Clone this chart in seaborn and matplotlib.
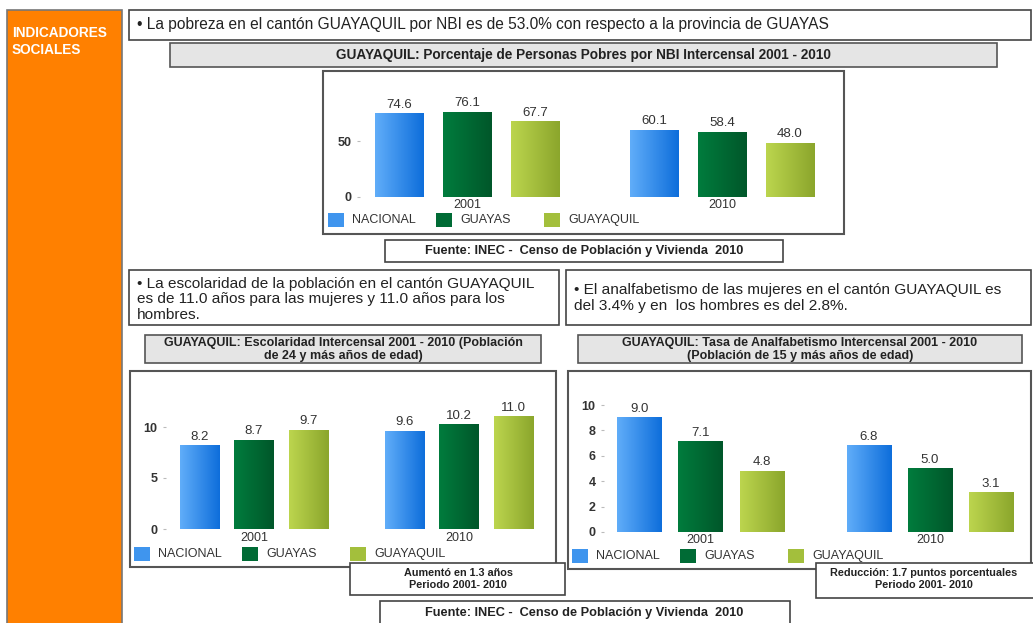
import numpy as np
import pandas as pd
import seaborn as sns
import matplotlib.pyplot as plt
from matplotlib.patches import Rectangle
from matplotlib.transforms import Affine2D
from matplotlib.colors import LinearSegmentedColormap

W, H = 1033, 623

regiones = ["NACIONAL", "GUAYAS", "GUAYAQUIL"]
anios = ["2001", "2010"]
pobreza_2001 = [74.6, 76.1, 67.7]
pobreza_2010 = [60.1, 58.4, 48.0]
escolaridad_2001 = [8.2, 8.7, 9.7]
escolaridad_2010 = [9.6, 10.2, 11.0]
analfabetismo_2001 = [9.0, 7.1, 4.8]
analfabetismo_2010 = [6.8, 5.0, 3.1]

colores = ["#3f95ee", "#006b35", "#a3bf3c"]
degradados = [("#60adf9", "#0e6edb"), ("#007c3d", "#00572a"), ("#bcd54e", "#8ba62c")]

sns.set_theme(style="white")
plt.rcParams["font.family"] = ["Liberation Sans", "DejaVu Sans"]

fig = plt.figure(figsize=(W / 100, H / 100), dpi=100)
# pixel coords, origin top-left
px = Affine2D().scale(1 / W, -1 / H).translate(0, 1) + fig.transFigure


def caja(x0, y0, x1, y1, fc="white", ec="#444444", lw=1.2, z=1):
    fig.add_artist(Rectangle((x0, y0), x1 - x0, y1 - y0, transform=px,
                             fc=fc, ec=ec, lw=lw, zorder=z))


def texto(x, y, s, **kw):
    kw.setdefault("color", "#222222")
    fig.text(x, y, s, transform=px, **kw)


def leyenda(x0, y, paso=108):
    for i, r in enumerate(regiones):
        caja(x0 + i * paso, y - 7, x0 + i * paso + 16, y + 7, fc=colores[i], ec="none")
        texto(x0 + i * paso + 24, y, r, fontsize=9, va="center", color="#333333")


def grafico(v2001, v2010, izq, der, arriba, y0, c0, unidad, escala, yticks, pad_x):
    df = pd.DataFrame({
        "anio": [a for a in anios for _ in regiones],
        "region": regiones * 2,
        "valor": v2001 + v2010,
    })
    ax = fig.add_axes([izq / W, 1 - y0 / H, (der - izq) / W, (y0 - arriba) / H])
    sns.barplot(data=df, x="anio", y="valor", hue="region", palette=colores,
                gap=0.28, legend=False, errorbar=None, linewidth=0, ax=ax)
    for i, cont in enumerate(ax.containers):
        cm = LinearSegmentedColormap.from_list("g%d" % i, degradados[i])
        for bar in cont:
            x0 = bar.get_x()
            ax.imshow(np.linspace(0, 1, 64).reshape(1, -1), cmap=cm,
                      extent=[x0, x0 + bar.get_width(), 0, bar.get_height()],
                      aspect="auto", interpolation="bicubic", zorder=bar.get_zorder() + 0.1)
        ax.bar_label(cont, fmt="%.1f", padding=2, fontsize=9.5, color="#333333")
    ax.set_xlim((izq - c0) / unidad, (der - c0) / unidad)
    ax.set_ylim(0, (y0 - arriba) / escala)
    ax.set_yticks(yticks)
    ax.set_xlabel("")
    ax.set_ylabel("")
    sns.despine(ax=ax, left=True, bottom=True)
    ax.tick_params(axis="x", length=0, pad=pad_x, labelsize=9, labelcolor="#333333")
    ax.tick_params(axis="y", left=True, length=2, width=0.8, color="#bbbbbb", pad=4,
                   labelsize=9, labelcolor="#333333")
    for t in ax.get_yticklabels():
        t.set_fontweight("bold")
    ax.patch.set_visible(False)
    return ax


# barra lateral
caja(7, 10, 122, 640, fc="#ff8000", ec="#777777")
texto(12, 41.5, "INDICADORES\nSOCIALES", color="white", fontsize=9.8, fontweight="bold",
      va="center", linespacing=1.2)

# pobreza
caja(129, 10, 1031, 40)
texto(137, 25, "• La pobreza en el cantón GUAYAQUIL por NBI es de 53.0% con respecto a la provincia de GUAYAS",
      fontsize=11.2, va="center")
caja(170, 43, 997, 67, fc="#e5e5e5", ec="#555555")
texto(583, 55, "GUAYAQUIL: Porcentaje de Personas Pobres por NBI Intercensal 2001 - 2010",
      fontsize=9.8, fontweight="bold", ha="center", va="center")
caja(323, 71, 844, 234, fc="none", ec="#555555", lw=1.5, z=0.5)
grafico(pobreza_2001, pobreza_2010, 360, 840, 95, 196.7, 467, 255, 1.113, [0, 50], 2)
leyenda(328, 220)
caja(385, 240, 783, 262)
texto(584, 251, "Fuente: INEC -  Censo de Población y Vivienda  2010",
      fontsize=9.2, fontweight="bold", ha="center", va="center")

# escolaridad / analfabetismo
caja(129, 270, 559, 325)
texto(137, 277, "• La escolaridad de la población en el cantón GUAYAQUIL\nes de 11.0 años para las mujeres y 11.0 años para los\nhombres.",
      fontsize=11.1, va="top", linespacing=1.13)
caja(566, 270, 1031, 325)
texto(574, 283, "• El analfabetismo de las mujeres en el cantón GUAYAQUIL es\ndel 3.4% y en  los hombres es del 2.8%.",
      fontsize=11.1, va="top", linespacing=1.15)

caja(145, 335, 541, 363, fc="#e5e5e5", ec="#555555")
texto(343, 349.5, "GUAYAQUIL: Escolaridad Intercensal 2001 - 2010 (Población\nde 24 y más años de edad)",
      fontsize=9, fontweight="bold", ha="center", va="center", linespacing=1.12)
caja(578, 335, 1022, 363, fc="#e5e5e5", ec="#555555")
texto(800, 349.5, "GUAYAQUIL: Tasa de Analfabetismo Intercensal 2001 - 2010\n(Población de 15 y más años de edad)",
      fontsize=9, fontweight="bold", ha="center", va="center", linespacing=1.12)

caja(130, 371, 556, 567, fc="none", ec="#555555", lw=1.5, z=0.5)
grafico(escolaridad_2001, escolaridad_2010, 166, 550, 380, 529, 254, 205, 10.2, [0, 5, 10], 2)
leyenda(134, 554)

caja(568, 371, 1031, 569, fc="none", ec="#555555", lw=1.5, z=0.5)
grafico(analfabetismo_2001, analfabetismo_2010, 604, 1028, 385, 532, 700.5, 229.5, 12.7,
        [0, 2, 4, 6, 8, 10], 1.5)
leyenda(572, 556)

caja(350, 563, 565, 595)
texto(458, 578.5, "Aumentó en 1.3 años\nPeriodo 2001- 2010", fontsize=7.8, fontweight="bold",
      ha="center", va="center", linespacing=1.25)
caja(816, 563, 1040, 598)
texto(924, 579.5, "Reducción: 1.7 puntos porcentuales\nPeriodo 2001- 2010", fontsize=7.8,
      fontweight="bold", ha="center", va="center", linespacing=1.25)

caja(380, 601, 790, 640)
texto(584, 613, "Fuente: INEC -  Censo de Población y Vivienda  2010",
      fontsize=9.2, fontweight="bold", ha="center", va="center")

fig.savefig("out.png", dpi=100)
